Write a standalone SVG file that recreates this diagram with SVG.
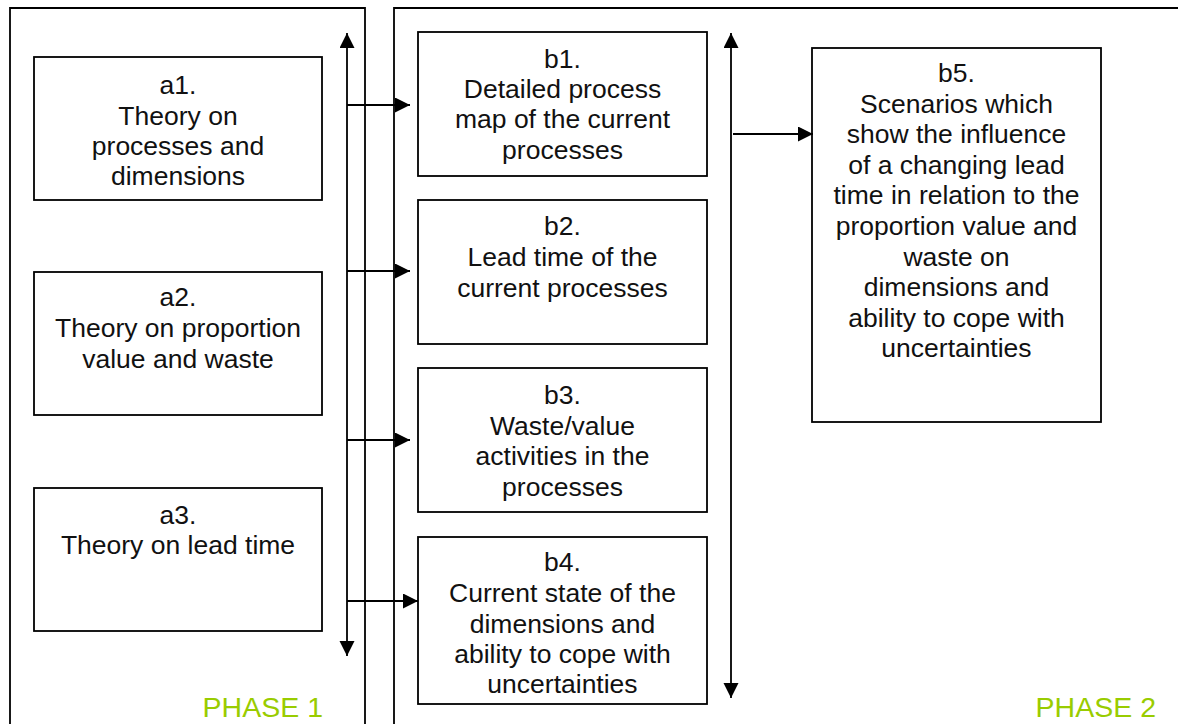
<svg xmlns="http://www.w3.org/2000/svg" width="1178" height="724" viewBox="0 0 1178 724">
  <defs>
    <marker id="arrow" markerUnits="userSpaceOnUse" markerWidth="16" markerHeight="16" refX="15" refY="7.5" orient="auto">
      <path d="M0,0 L15,7.5 L0,15 Z" fill="#000"/>
    </marker>
    <style>
      .frame { fill: none; stroke: #000; stroke-width: 1.8; }
      .box { fill: #fff; stroke: #000; stroke-width: 1.8; }
      .lbl { font-family: "Liberation Sans", Arial, sans-serif; font-size: 26.5px; fill: #111; text-anchor: middle; }
      .phase { font-family: "Liberation Sans", Arial, sans-serif; font-size: 28.5px; fill: #99cc00; text-anchor: end; }
      .conn { stroke: #000; stroke-width: 1.8; fill: none; }
    </style>
  </defs>
  <rect width="1178" height="724" fill="#fff"/>

  <!-- phase frames (open at the bottom) -->
  <g id="phase1">
    <path class="frame" d="M10,730 L10,8 L365,8 L365,730"/>
    <text class="phase" x="323" y="717">PHASE 1</text>
  </g>
  <g id="phase2">
    <path class="frame" d="M394,730 L394,8 L1185,8"/>
    <text class="phase" x="1156" y="717">PHASE 2</text>
  </g>

  <!-- phase 1 nodes -->
  <g id="a1">
    <rect class="box" x="34" y="57" width="288" height="143"/>
    <text class="lbl" x="178" y="94">a1.</text>
    <text class="lbl" x="178" y="125">Theory on</text>
    <text class="lbl" x="178" y="155">processes and</text>
    <text class="lbl" x="178" y="185">dimensions</text>
  </g>
  <g id="a2">
    <rect class="box" x="34" y="272" width="288" height="143"/>
    <text class="lbl" x="178" y="306">a2.</text>
    <text class="lbl" x="178" y="337">Theory on proportion</text>
    <text class="lbl" x="178" y="368">value and waste</text>
  </g>
  <g id="a3">
    <rect class="box" x="34" y="488" width="288" height="143"/>
    <text class="lbl" x="178" y="524">a3.</text>
    <text class="lbl" x="178" y="554">Theory on lead time</text>
  </g>

  <!-- phase 2 nodes -->
  <g id="b1">
    <rect class="box" x="418" y="32" width="289" height="144"/>
    <text class="lbl" x="562.5" y="68">b1.</text>
    <text class="lbl" x="562.5" y="98">Detailed process</text>
    <text class="lbl" x="562.5" y="128">map of the current</text>
    <text class="lbl" x="562.5" y="159">processes</text>
  </g>
  <g id="b2">
    <rect class="box" x="418" y="200" width="289" height="144"/>
    <text class="lbl" x="562.5" y="235">b2.</text>
    <text class="lbl" x="562.5" y="266">Lead time of the</text>
    <text class="lbl" x="562.5" y="297">current processes</text>
  </g>
  <g id="b3">
    <rect class="box" x="418" y="368" width="289" height="144"/>
    <text class="lbl" x="562.5" y="404">b3.</text>
    <text class="lbl" x="562.5" y="435">Waste/value</text>
    <text class="lbl" x="562.5" y="465">activities in the</text>
    <text class="lbl" x="562.5" y="496">processes</text>
  </g>
  <g id="b4">
    <rect class="box" x="418" y="537" width="289" height="167"/>
    <text class="lbl" x="562.5" y="571">b4.</text>
    <text class="lbl" x="562.5" y="602">Current state of the</text>
    <text class="lbl" x="562.5" y="633">dimensions and</text>
    <text class="lbl" x="562.5" y="663">ability to cope with</text>
    <text class="lbl" x="562.5" y="693">uncertainties</text>
  </g>
  <g id="b5">
    <rect class="box" x="812" y="48" width="289" height="374"/>
    <text class="lbl" x="956.5" y="82">b5.</text>
    <text class="lbl" x="956.5" y="113">Scenarios which</text>
    <text class="lbl" x="956.5" y="143">show the influence</text>
    <text class="lbl" x="956.5" y="174">of a changing lead</text>
    <text class="lbl" x="956.5" y="204">time in relation to the</text>
    <text class="lbl" x="956.5" y="235">proportion value and</text>
    <text class="lbl" x="956.5" y="266">waste on</text>
    <text class="lbl" x="956.5" y="296">dimensions and</text>
    <text class="lbl" x="956.5" y="327">ability to cope with</text>
    <text class="lbl" x="956.5" y="357">uncertainties</text>
  </g>

  <!-- connectors -->
  <g id="connectors">
    <!-- phase 1 double-headed spine -->
    <line class="conn" x1="347" y1="345" x2="347" y2="33" marker-end="url(#arrow)"/>
    <line class="conn" x1="347" y1="345" x2="347" y2="656" marker-end="url(#arrow)"/>
    <line class="conn" x1="347" y1="105" x2="410" y2="105" marker-end="url(#arrow)"/>
    <line class="conn" x1="347" y1="271" x2="410" y2="271" marker-end="url(#arrow)"/>
    <line class="conn" x1="347" y1="440" x2="410" y2="440" marker-end="url(#arrow)"/>
    <line class="conn" x1="347" y1="601" x2="418" y2="601" marker-end="url(#arrow)"/>
    <!-- phase 2 double-headed spine -->
    <line class="conn" x1="731" y1="365" x2="731" y2="33" marker-end="url(#arrow)"/>
    <line class="conn" x1="731" y1="365" x2="731" y2="698" marker-end="url(#arrow)"/>
    <line class="conn" x1="733" y1="134" x2="813" y2="134" marker-end="url(#arrow)"/>
  </g>
</svg>
